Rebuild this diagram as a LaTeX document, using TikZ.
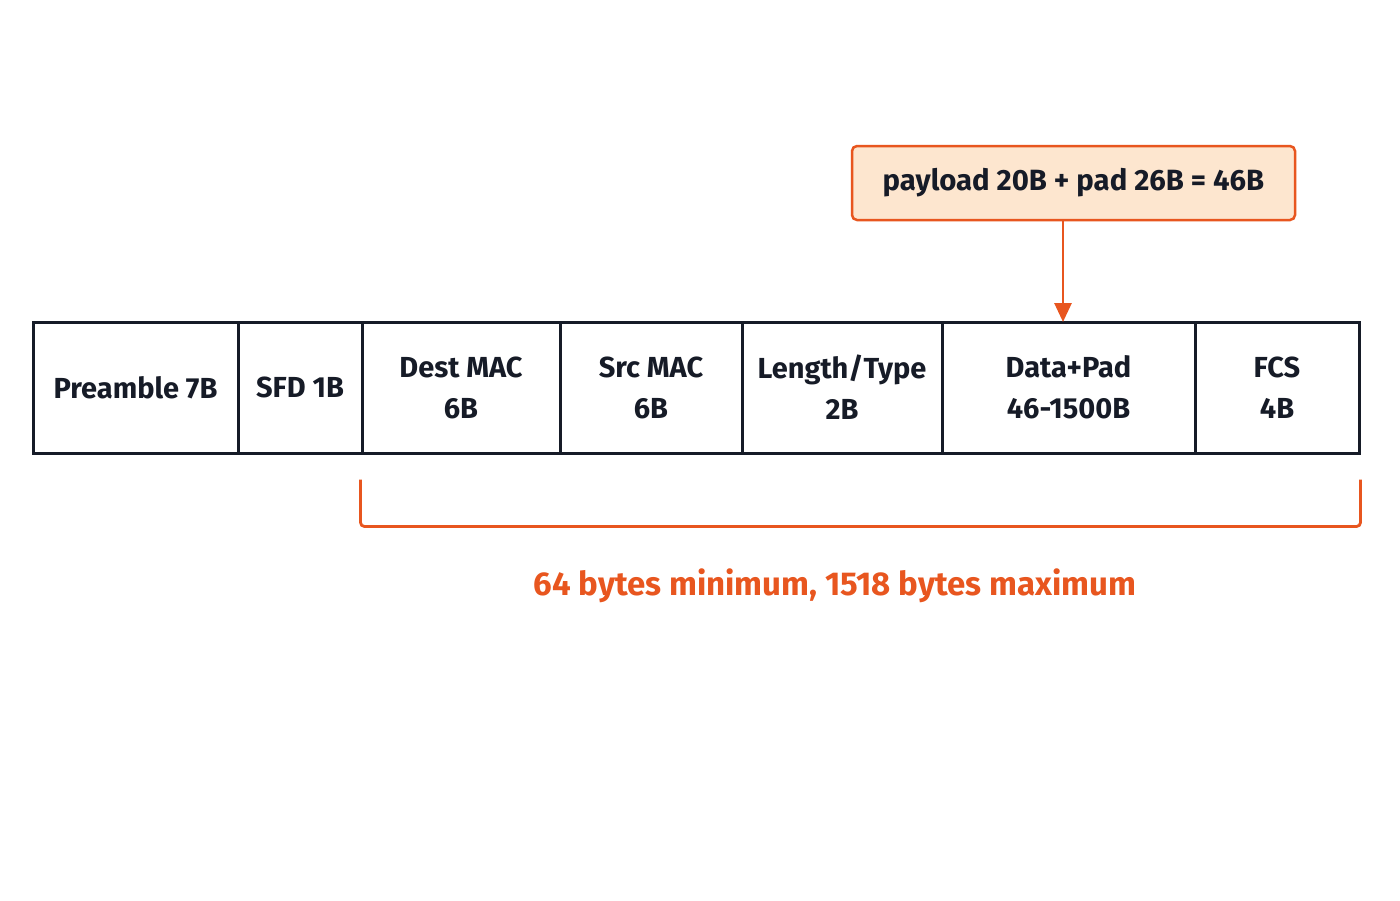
\documentclass[tikz,border=0pt]{standalone}
\usepackage{fontspec}
\setmainfont{Fira Sans}
\usetikzlibrary{arrows.meta,calc}
\definecolor{ink}{HTML}{161B27}
\definecolor{orng}{HTML}{E8561F}
\definecolor{peach}{HTML}{FDE6CF}
\tikzset{
  cell/.style={draw=ink, line width=3pt, fill=white, minimum height=131pt, inner sep=0pt,
    align=center, text=ink, font=\fontsize{29}{41}\selectfont\bfseries},
  callout/.style={draw=orng, line width=2.5pt, fill=peach, rounded corners=5pt,
    minimum width=443pt, minimum height=74pt, inner sep=0pt, text=ink,
    font=\fontsize{29.3}{34}\selectfont\bfseries},
  orline/.style={draw=orng, line width=2.8pt},
  label/.style={text=orng, font=\fontsize{33}{38}\selectfont\bfseries, inner sep=0pt}
}
\begin{document}
\begin{tikzpicture}[x=1pt,y=-1pt]
\useasboundingbox[fill=white] (0,0) rectangle (1400,900);
\node[cell, minimum width=205pt] (pre) at (135.5,387.5) {Preamble 7B};
\node[cell, minimum width=124pt] (sfd) at (300,387.5) {SFD 1B};
\node[cell, minimum width=198pt] (dst) at (461,387.5) {Dest MAC\\6B};
\node[cell, minimum width=182pt] (src) at (651,387.5) {Src MAC\\6B};
\node[cell, minimum width=200pt] (len) at (842,387.5) {Length/Type\\2B};
\node[cell, minimum width=253pt] (dat) at (1068.5,387.5) {Data+Pad\\46-1500B};
\node[cell, minimum width=164pt] (fcs) at (1277,387.5) {FCS\\4B};

\node[callout] (call) at (1073.5,183) {payload 20B + pad 26B = 46B};
\coordinate (tipx) at (1063,300);
\draw[orline, -{Triangle[length=19pt,width=17pt]}] (call.south -| tipx) -- ([yshift=-1.5pt]dat.north -| tipx);

\coordinate (bl) at ($(dst.south west)+(0,25)$);
\coordinate (br) at ($(fcs.south east)+(0,25)$);
\draw[orline, rounded corners=4pt] (bl) -- ++(0,47) -| (br);

\node[label] (lbl) at (835,586) {64 bytes minimum, 1518 bytes maximum};
\end{tikzpicture}
\end{document}
